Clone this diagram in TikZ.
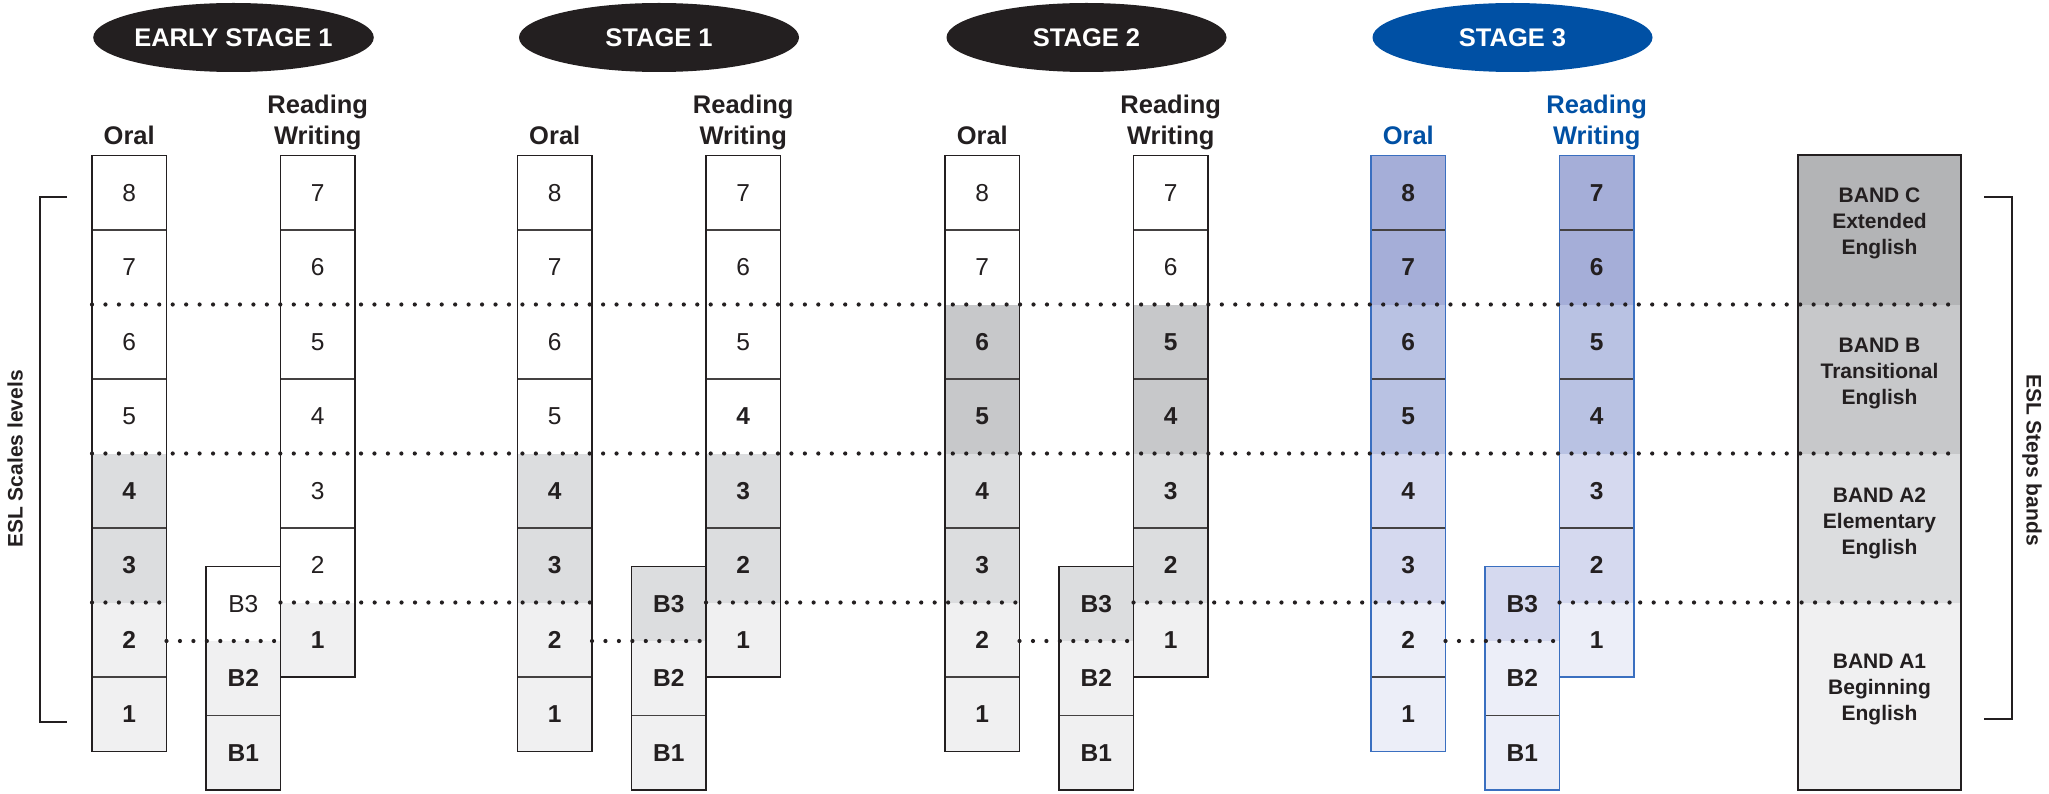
\documentclass[tikz,border=0pt]{standalone}
\usepackage{fontspec}
\setmainfont{Liberation Sans}
\usetikzlibrary{shapes.geometric}
\definecolor{ink}{HTML}{231F20}
\definecolor{gA1}{HTML}{F0F0F1}
\definecolor{gA2}{HTML}{DCDDDF}
\definecolor{gB}{HTML}{C7C8CA}
\definecolor{gC}{HTML}{B3B4B6}
\definecolor{bA1}{HTML}{ECEEF8}
\definecolor{bA2}{HTML}{D5D9EF}
\definecolor{bB}{HTML}{B9C2E3}
\definecolor{bC}{HTML}{A5AED8}
\definecolor{blueE}{HTML}{0050A4}
\definecolor{blueL}{HTML}{3A6FC0}
\newcommand\cellR{\fontsize{24.5}{28}\selectfont}
\newcommand\cellB{\fontsize{24.5}{28}\selectfont\bfseries}
\tikzset{
  cell/.style={rectangle, minimum width=74.5pt, minimum height=74.5pt, inner sep=0pt, outer sep=0pt, text=ink},
  frm/.style={draw=#1, line width=1.3pt},
  frm/.default=ink,
  div/.style={draw=ink!85, line width=1.2pt},
  dots/.style={draw=ink, line width=4.2pt, line cap=round, dash pattern=on 0pt off 13.45pt},
  brk/.style={draw=ink, line width=2.6pt},
  oval/.style={ellipse, minimum width=280pt, minimum height=69pt, inner sep=0pt, text=white, font=\fontsize{25.5}{30}\selectfont\bfseries},
  lab/.style={inner sep=0pt, font=\fontsize{25.5}{31}\selectfont\bfseries},
  band/.style={rectangle, minimum width=163pt, inner sep=0pt, outer sep=0pt},
  bandtxt/.style={align=center, text=ink, inner sep=0pt, font=\fontsize{21}{26}\selectfont\bfseries},
  side/.style={inner sep=0pt, text=ink, font=\fontsize{21}{25}\selectfont\bfseries}
}
\newcommand\mkcol[4]{%
  \foreach \n/\cf/\ft [count=\i from 0] in {#4}{%
    \node[cell, fill=\cf, font=\ft] (#1\n) at ({#2+37.25}, {#3+\i*74.5+37.25}) {\n};
  }}
\newcommand\mkframes[2]{%
  \draw[div] (#1O8.south west) -- (#1O8.south east)
             (#1O6.south west) -- (#1O6.south east)
             (#1O4.south west) -- (#1O4.south east)
             (#1O2.south west) -- (#1O2.south east)
             (#1R7.south west) -- (#1R7.south east)
             (#1R5.south west) -- (#1R5.south east)
             (#1R3.south west) -- (#1R3.south east)
             (#1B2.south west) -- (#1B2.south east);
  \draw[frm=#2] (#1O8.north west) rectangle (#1O1.south east)
                (#1R7.north west) rectangle (#1R1.south east)
                (#1B3.north west) rectangle (#1B1.south east);
  \draw[dots] (#1B3.south east -| #1O2.east) -- (#1B3.south east);
}
\newcommand\mkhead[5]{%
  \node[oval, fill=#4] (#1E) at ({#2+141.5}, 37.5) {#3};
  \node[lab, text=#5, anchor=base] (#1Ol) at ({#2+37.25}, 145) {Oral};
  \node[lab, text=#5, anchor=south, align=center] (#1Rl) at ({#2+225.75}, 150.4) {Reading\\Writing};
}
\begin{document}
\begin{tikzpicture}[x=1pt, y=-1pt]
\useasboundingbox (0,0) rectangle (2049,794);

% ---------- Early Stage 1 ----------
\mkhead{e}{92}{EARLY STAGE 1}{ink}{ink}
\mkcol{eO}{92}{155.5}{8/white/\cellR, 7/white/\cellR, 6/white/\cellR, 5/white/\cellR, 4/gA2/\cellB, 3/gA2/\cellB, 2/gA1/\cellB, 1/gA1/\cellB}
\mkcol{eR}{280.5}{155.5}{7/white/\cellR, 6/white/\cellR, 5/white/\cellR, 4/white/\cellR, 3/white/\cellR, 2/white/\cellR, 1/gA1/\cellB}
\mkcol{e}{206}{566.5}{B3/white/\cellR, B2/gA1/\cellB, B1/gA1/\cellB}
\mkframes{e}{ink}

% ---------- Stage 1 ----------
\mkhead{sa}{517.5}{STAGE 1}{ink}{ink}
\mkcol{saO}{517.5}{155.5}{8/white/\cellR, 7/white/\cellR, 6/white/\cellR, 5/white/\cellR, 4/gA2/\cellB, 3/gA2/\cellB, 2/gA1/\cellB, 1/gA1/\cellB}
\mkcol{saR}{706}{155.5}{7/white/\cellR, 6/white/\cellR, 5/white/\cellR, 4/white/\cellB, 3/gA2/\cellB, 2/gA2/\cellB, 1/gA1/\cellB}
\mkcol{sa}{631.5}{566.5}{B3/gA2/\cellB, B2/gA1/\cellB, B1/gA1/\cellB}
\mkframes{sa}{ink}

% ---------- Stage 2 ----------
\mkhead{sb}{945}{STAGE 2}{ink}{ink}
\mkcol{sbO}{945}{155.5}{8/white/\cellR, 7/white/\cellR, 6/gB/\cellB, 5/gB/\cellB, 4/gA2/\cellB, 3/gA2/\cellB, 2/gA1/\cellB, 1/gA1/\cellB}
\mkcol{sbR}{1133.5}{155.5}{7/white/\cellR, 6/white/\cellR, 5/gB/\cellB, 4/gB/\cellB, 3/gA2/\cellB, 2/gA2/\cellB, 1/gA1/\cellB}
\mkcol{sb}{1059}{566.5}{B3/gA2/\cellB, B2/gA1/\cellB, B1/gA1/\cellB}
\mkframes{sb}{ink}

% ---------- Stage 3 ----------
\mkhead{sc}{1371}{STAGE 3}{blueE}{blueE}
\mkcol{scO}{1371}{155.5}{8/bC/\cellB, 7/bC/\cellB, 6/bB/\cellB, 5/bB/\cellB, 4/bA2/\cellB, 3/bA2/\cellB, 2/bA1/\cellB, 1/bA1/\cellB}
\mkcol{scR}{1559.5}{155.5}{7/bC/\cellB, 6/bC/\cellB, 5/bB/\cellB, 4/bB/\cellB, 3/bA2/\cellB, 2/bA2/\cellB, 1/bA1/\cellB}
\mkcol{sc}{1485}{566.5}{B3/bA2/\cellB, B2/bA1/\cellB, B1/bA1/\cellB}
\mkframes{sc}{blueL}

% ---------- Bands ----------
\node[band, fill=gC, minimum height=149.5pt] (bandC) at (1879.5, 229.75) {};
\node[band, fill=gB, minimum height=149pt] (bandB) at (1879.5, 379) {};
\node[band, fill=gA2, minimum height=149pt] (bandA2) at (1879.5, 528) {};
\node[band, fill=gA1, minimum height=187.5pt] (bandA1) at (1879.5, 696.25) {};
\draw[frm] (bandC.north west) rectangle (bandA1.south east);
\node[bandtxt, yshift=6pt] (bandCt) at (bandC.center) {BAND C\\Extended\\English};
\node[bandtxt, yshift=6pt] (bandBt) at (bandB.center) {BAND B\\Transitional\\English};
\node[bandtxt, yshift=5pt] (bandA2t) at (bandA2.center) {BAND A2\\Elementary\\English};
\node[bandtxt, yshift=7pt] (bandA1t) at (bandA1.center) {BAND A1\\Beginning\\English};

% ---------- dotted band boundaries ----------
\draw[dots] (eO7.south west) -- (bandC.south east);
\draw[dots] (eO5.south west) -- (bandB.south east);
\draw[dots] (eO3.south west) -- (eO3.south east);
\draw[dots] (eR2.south west) -- (saO3.south east);
\draw[dots] (saR2.south west) -- (sbO3.south east);
\draw[dots] (sbR2.south west) -- (scO3.south east);
\draw[dots] (scR2.south west) -- (bandA2.south east);

% ---------- brackets ----------
\coordinate (lbt) at (67,197);
\coordinate (lbb) at (67,722);
\coordinate (rbt) at (1984,197);
\coordinate (rbb) at (1984,719);
\draw[brk] (lbt) -- ++(-27,0) |- (lbb);
\draw[brk] (rbt) -- ++(28,0) |- (rbb);
\node[side, rotate=90] (leftlab) at (15,459) {ESL Scales levels};
\node[side, rotate=-90] (rightlab) at (2032,460) {ESL Steps bands};
\end{tikzpicture}
\end{document}
